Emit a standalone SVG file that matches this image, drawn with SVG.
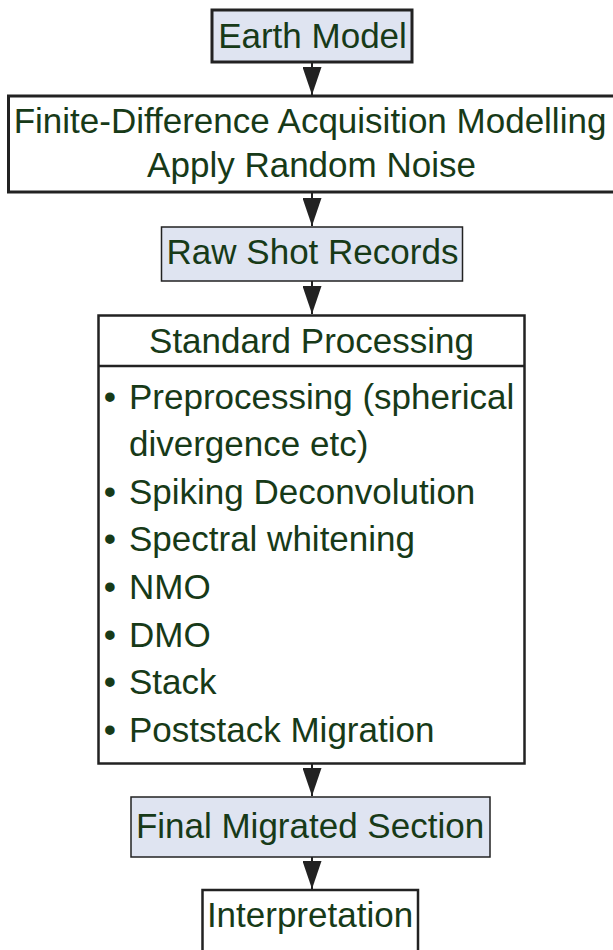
<svg xmlns="http://www.w3.org/2000/svg" width="613" height="950" viewBox="0 0 613 950">
  <style>
    .t { font-family: "Liberation Sans", Arial, sans-serif; font-size: 35px; fill: #173a18; }
    .c { text-anchor: middle; }
    .blue { fill: #dfe4f1; }
    .white { fill: #ffffff; }
    .box { stroke: #222222; }
    .conn { stroke: #222222; stroke-width: 2; fill: none; }
  </style>
  <defs>
    <marker id="arrow" markerWidth="28" markerHeight="19" refX="28" refY="9.5" orient="auto" markerUnits="userSpaceOnUse" viewBox="0 0 28 19">
      <path d="M0,0 L28,9.5 L0,19 Z" fill="#222222"/>
    </marker>
  </defs>
  <rect x="0" y="0" width="613" height="950" fill="#ffffff"/>

  <g id="connectors">
    <line class="conn" x1="312" y1="63" x2="312" y2="95" marker-end="url(#arrow)"/>
    <line class="conn" x1="312" y1="193" x2="312" y2="226" marker-end="url(#arrow)"/>
    <line class="conn" x1="312" y1="281" x2="312" y2="314" marker-end="url(#arrow)"/>
    <line class="conn" x1="312" y1="764" x2="312" y2="796" marker-end="url(#arrow)"/>
    <line class="conn" x1="312" y1="857" x2="312" y2="889" marker-end="url(#arrow)"/>
  </g>

  <g id="earth-model">
    <rect class="blue box" x="212" y="10" width="200" height="52" stroke-width="3"/>
    <text class="t c" x="312.5" y="48">Earth Model</text>
  </g>

  <g id="fd-modelling">
    <rect class="white box" x="8.5" y="96" width="610" height="96" stroke-width="3"/>
    <text class="t c" x="310" y="133">Finite-Difference Acquisition Modelling</text>
    <text class="t c" x="311.5" y="177">Apply Random Noise</text>
  </g>

  <g id="raw-shot-records">
    <rect class="blue box" x="161.5" y="227" width="301" height="54" stroke-width="1.5"/>
    <text class="t c" x="312.5" y="264">Raw Shot Records</text>
  </g>

  <g id="standard-processing">
    <rect class="white box" x="98.5" y="315.5" width="426" height="448" stroke-width="2.5"/>
    <line class="box" x1="98.5" y1="366" x2="524.5" y2="366" stroke-width="2.5"/>
    <text class="t c" x="311.5" y="353">Standard Processing</text>
    <text class="t c" x="110" y="408.5">•</text>
    <text class="t" x="129" y="408.5">Preprocessing (spherical</text>
    <text class="t" x="129" y="456">divergence etc)</text>
    <text class="t c" x="110" y="503.7">•</text>
    <text class="t" x="129" y="503.7">Spiking Deconvolution</text>
    <text class="t c" x="110" y="551.3">•</text>
    <text class="t" x="129" y="551.3">Spectral whitening</text>
    <text class="t c" x="110" y="598.9">•</text>
    <text class="t" x="129" y="598.9">NMO</text>
    <text class="t c" x="110" y="646.5">•</text>
    <text class="t" x="129" y="646.5">DMO</text>
    <text class="t c" x="110" y="694.1">•</text>
    <text class="t" x="129" y="694.1">Stack</text>
    <text class="t c" x="110" y="741.7">•</text>
    <text class="t" x="129" y="741.7">Poststack Migration</text>
  </g>

  <g id="final-migrated-section">
    <rect class="blue box" x="131" y="797" width="359" height="60" stroke-width="1.5"/>
    <text class="t c" x="310" y="838">Final Migrated Section</text>
  </g>

  <g id="interpretation">
    <rect class="white box" x="202.5" y="890" width="215.5" height="62" stroke-width="2.5"/>
    <text class="t c" x="310" y="927">Interpretation</text>
  </g>
</svg>
